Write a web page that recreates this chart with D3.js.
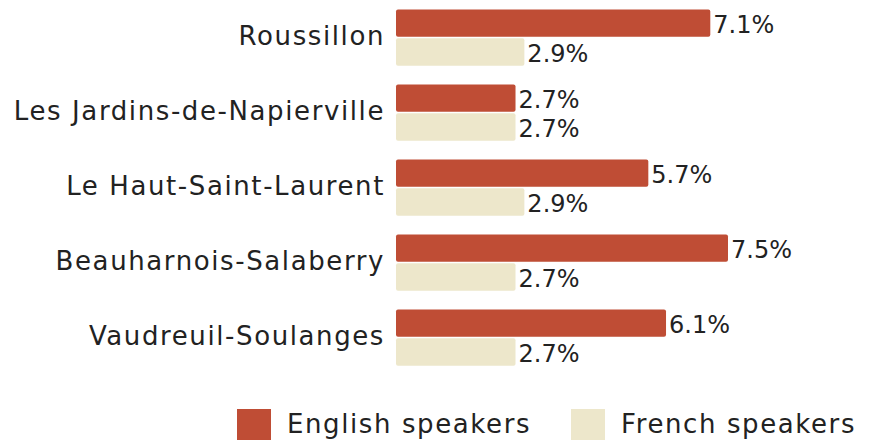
<!DOCTYPE html>
<html>
<head>
<meta charset="utf-8">
<script src="https://cdn.jsdelivr.net/npm/d3@7"></script>
<style>
  body { margin: 0; background: #fff; }
  text { font-family: "DejaVu Sans", sans-serif; fill: #222; }
</style>
</head>
<body>
<script>
const regions = ["Roussillon", "Les Jardins-de-Napierville", "Le Haut-Saint-Laurent", "Beauharnois-Salaberry", "Vaudreuil-Soulanges"];
const seriesNames = ["English speakers", "French speakers"];
const english = [7.1, 2.7, 5.7, 7.5, 6.1];
const french = [2.9, 2.7, 2.9, 2.7, 2.7];
const colors = ["#BF4D35", "#EDE7CB"];

const W = 877, H = 442;
const left = 396;

const svg = d3.select("body").append("svg")
  .attr("width", W)
  .attr("height", H);

const x = d3.scaleLinear()
  .domain([0, 7.5])
  .range([left, 728]);

const y = d3.scaleBand()
  .domain(regions)
  .range([0, 375])
  .paddingInner(0.25)
  .paddingOuter(0.125);

const ySub = d3.scaleBand()
  .domain(seriesNames)
  .range([0, y.bandwidth()])
  .paddingInner(0.06);

const rows = regions.map((r, i) => ({region: r, values: [english[i], french[i]]}));

const g = svg.selectAll(".row")
  .data(rows)
  .enter()
  .append("g")
  .attr("class", "row")
  .attr("transform", d => `translate(0,${y(d.region)})`);

g.append("text")
  .text(d => d.region)
  .attr("x", left - 11)
  .attr("y", y.bandwidth() / 2)
  .attr("dy", "0.28em")
  .attr("text-anchor", "end")
  .style("font-size", "26px")
  .style("letter-spacing", "1.6px");

const bars = g.selectAll(".bar")
  .data(d => d.values.map((v, j) => ({name: seriesNames[j], value: v, idx: j})))
  .enter();

bars.append("rect")
  .attr("x", x(0))
  .attr("y", d => ySub(d.name))
  .attr("width", d => x(d.value) - x(0))
  .attr("height", ySub.bandwidth())
  .attr("rx", 2)
  .attr("fill", d => colors[d.idx]);

bars.append("text")
  .text(d => d.value.toFixed(1) + "%")
  .attr("x", d => x(d.value) + 3)
  .attr("y", d => ySub(d.name) + ySub.bandwidth() / 2)
  .attr("dy", "0.4em")
  .style("font-size", "24px");

// legend
const legend = svg.append("g").attr("id", "legend");
const legendX = [237, 571];

seriesNames.forEach((name, i) => {
  legend.append("rect")
    .attr("x", legendX[i])
    .attr("y", 409)
    .attr("width", 34)
    .attr("height", 31)
    .attr("fill", colors[i]);
  legend.append("text")
    .text(name)
    .attr("x", legendX[i] + 50)
    .attr("y", 433)
    .style("font-size", "26px")
    .style("letter-spacing", "1.6px");
});
</script>
</body>
</html>
